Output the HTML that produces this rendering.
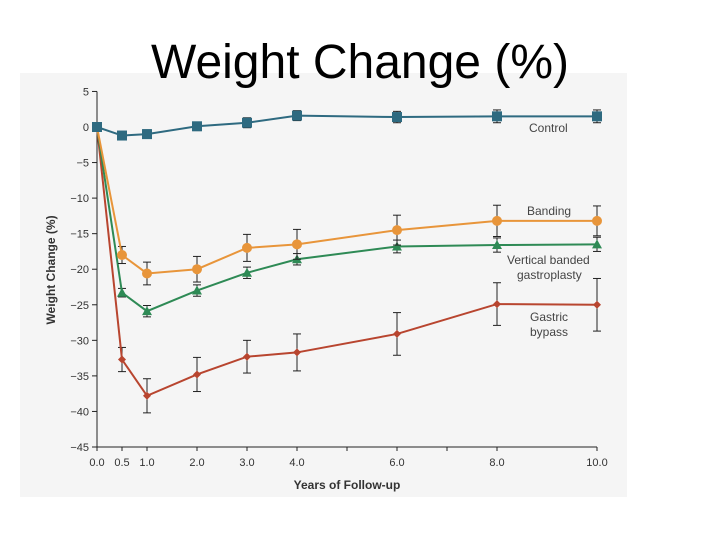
<!DOCTYPE html>
<html><head><meta charset="utf-8"><style>
body{margin:0;width:720px;height:540px;background:#fff;overflow:hidden;font-family:"Liberation Sans",sans-serif}
</style></head><body>
<svg width="720" height="540" xmlns="http://www.w3.org/2000/svg">
<rect x="20" y="73" width="607" height="424" fill="#f5f5f5"/>
<text x="360" y="78" text-anchor="middle" font-size="48" fill="#000">Weight Change (%)</text>
<g id="axes"></g><g id="series"></g>
<text transform="translate(55,270) rotate(-90)" text-anchor="middle" font-size="12" font-weight="bold" fill="#333">Weight Change (%)</text>
<text x="347" y="489" text-anchor="middle" font-size="12" font-weight="bold" fill="#333">Years of Follow-up</text>
<g font-size="12" fill="#444">
<text x="529" y="132">Control</text>
<text x="527" y="215">Banding</text>
<text x="507" y="264">Vertical banded</text>
<text x="517" y="279">gastroplasty</text>
<text x="530" y="321">Gastric</text>
<text x="530" y="336">bypass</text>
</g>
</svg>
<script>
const years=[0,0.5,1,2,3,4,6,8,10];
const control=[0,-1.2,-1.0,0.1,0.6,1.6,1.4,1.5,1.5];
const controlErr=[0,0.5,0.6,0.6,0.7,0.7,0.8,0.9,0.9];
const banding=[0,-18,-20.6,-20,-17,-16.5,-14.5,-13.2,-13.2];
const bandingErr=[0,1.2,1.6,1.8,1.9,2.1,2.1,2.2,2.1];
const vbg=[0,-23.3,-25.9,-23,-20.5,-18.6,-16.8,-16.6,-16.5];
const vbgErr=[0,0.6,0.8,0.8,0.8,0.8,0.9,1.0,1.0];
const gastric=[0,-32.7,-37.8,-34.8,-32.3,-31.7,-29.1,-24.9,-25];
const gastricErr=[0,1.7,2.4,2.4,2.3,2.6,3.0,3.0,3.7];
const yTicks=[5,0,-5,-10,-15,-20,-25,-30,-35,-40,-45];
const xTicks=[0,0.5,1,2,3,4,6,8,10];
const xLabels=["0.0","0.5","1.0","2.0","3.0","4.0","6.0","8.0","10.0"];
const xMinor=[5,7];
const NS="http://www.w3.org/2000/svg";
const X=v=>97+v*50, Y=v=>127-v*(320/45);
function mk(p,t,a){const e=document.createElementNS(NS,t);for(const k in a)e.setAttribute(k,a[k]);p.appendChild(e);return e;}
const ax=document.getElementById('axes');
let l=mk(ax,'line',{x1:97,y1:Y(5),x2:97,y2:Y(-45),stroke:'#222','stroke-width':1});


l=mk(ax,'line',{x1:97,y1:Y(-45),x2:X(10),y2:Y(-45),stroke:'#222','stroke-width':1});


yTicks.forEach(v=>{mk(ax,'line',{x1:92,x2:97,y1:Y(v),y2:Y(v),stroke:'#222'});
const t=mk(ax,'text',{x:89,y:Y(v)+4,'text-anchor':'end','font-size':11,fill:'#333'});t.textContent=v<0?'\u2212'+(-v):v;

});
xTicks.concat(xMinor).forEach(v=>mk(ax,'line',{x1:X(v),x2:X(v),y1:Y(-45),y2:Y(-45)+4,stroke:'#222'}));
xTicks.forEach((v,i)=>{const t=mk(ax,'text',{x:X(v),y:466,'text-anchor':'middle','font-size':11,fill:'#333'});t.textContent=xLabels[i];

});
const sg=document.getElementById('series');
function series(name,vals,errs,color,shape){
 const g=mk(sg,'g',{});
 
 
 vals.forEach((v,i)=>{if(!errs[i])return;const x=X(years[i]);
  mk(g,'line',{x1:x,x2:x,y1:Y(v+errs[i]),y2:Y(v-errs[i]),stroke:'#222'});
  [v+errs[i],v-errs[i]].forEach(e=>mk(g,'line',{x1:x-4,x2:x+4,y1:Y(e),y2:Y(e),stroke:'#222'}));});
 mk(g,'polyline',{points:vals.map((v,i)=>X(years[i])+','+Y(v)).join(' '),fill:'none',stroke:color,'stroke-width':2});
 vals.forEach((v,i)=>{const x=X(years[i]),y=Y(v);let m;
  if(shape==='sq')m=mk(g,'rect',{x:x-5,y:y-5,width:10,height:10,fill:color});
  else if(shape==='c')m=mk(g,'circle',{cx:x,cy:y,r:5,fill:color});
  else if(shape==='t')m=mk(g,'polygon',{points:`${x},${y-5} ${x-5},${y+4} ${x+5},${y+4}`,fill:color});
  else m=mk(g,'polygon',{points:`${x},${y-4} ${x+4},${y} ${x},${y+4} ${x-4},${y}`,fill:color});
  
  });
}
series('gastric-bypass',gastric,gastricErr,'#b8452f','d');
series('vbg',vbg,vbgErr,'#2e8a55','t');
series('banding',banding,bandingErr,'#e8953a','c');
series('control',control,controlErr,'#2e6a80','sq');
</script>
</body></html>
